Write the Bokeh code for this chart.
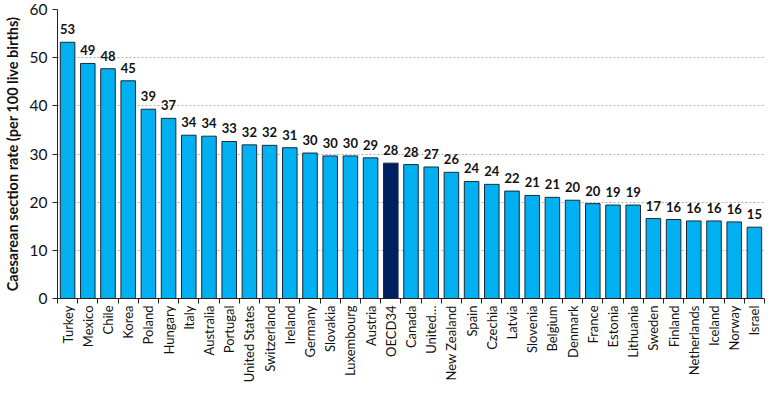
import numpy as np
from bokeh.plotting import figure
from bokeh.models import ColumnDataSource, FixedTicker, Range1d
from bokeh.core.properties import value
from bokeh.embed import file_html
from bokeh.resources import INLINE

countries = ["Turkey", "Mexico", "Chile", "Korea", "Poland", "Hungary", "Italy", "Australia",
             "Portugal", "United States", "Switzerland", "Ireland", "Germany", "Slovakia",
             "Luxembourg", "Austria", "OECD34", "Canada", "United\u2026", "New Zealand", "Spain",
             "Czechia", "Latvia", "Slovenia", "Belgium", "Denmark", "France", "Estonia",
             "Lithuania", "Sweden", "Finland", "Netherlands", "Iceland", "Norway", "Israel"]
rates = [53.2, 48.8, 47.7, 45.2, 39.3, 37.4, 33.9, 33.7, 32.6, 31.9, 31.8, 31.3, 30.2, 29.6,
         29.6, 29.2, 28.1, 27.8, 27.3, 26.2, 24.3, 23.7, 22.3, 21.4, 21.0, 20.4, 19.7, 19.4,
         19.4, 16.6, 16.4, 16.1, 16.1, 15.9, 14.8]
highlight = "OECD34"
y_ticks = [0, 10, 20, 30, 40, 50, 60]

FONT = "Lato"
n = len(countries)
xs = list(range(n))
colors = ["#002060" if c == highlight else "#00B0F0" for c in countries]
labels = [str(int(round(v))) for v in rates]

src = ColumnDataSource(dict(x=xs, top=rates, color=colors, label=labels))

p = figure(width=766, height=385, output_backend="svg", toolbar_location=None,
           x_range=Range1d(-0.5, n - 0.5), y_range=Range1d(0, 60),
           min_border_top=9, min_border_right=2, min_border_left=4, min_border_bottom=0)
p.outline_line_color = None
p.background_fill_color = "white"

p.vbar(x="x", top="top", width=0.72, bottom=0, fill_color="color",
       line_color="#1a2a3a", line_width=1, source=src)
p.text(x="x", y="top", text="label", source=src, text_align="center",
       text_baseline="bottom", y_offset=-8, text_font=value(FONT),
       text_font_style="bold", text_font_size="13px", text_color="#111111")

# axes
p.xaxis.ticker = FixedTicker(ticks=xs, minor_ticks=[i - 0.5 for i in range(n + 1)])
p.xaxis.major_label_overrides = {i: c for i, c in enumerate(countries)}
p.xaxis.major_label_orientation = np.pi / 2
p.xaxis.major_tick_line_color = None
p.xaxis.major_tick_out = 0
p.xaxis.major_tick_in = 0
p.xaxis.minor_tick_out = 5
p.xaxis.minor_tick_in = 0
p.xaxis.minor_tick_line_color = "#222222"
p.xaxis.axis_line_color = "#222222"
p.xaxis.major_label_text_font = FONT
p.xaxis.major_label_text_font_size = "13px"
p.xaxis.major_label_text_color = "#111111"
p.xaxis.major_label_standoff = 2

p.yaxis.ticker = FixedTicker(ticks=y_ticks)
p.yaxis.minor_tick_line_color = None
p.yaxis.major_tick_out = 5
p.yaxis.major_tick_in = 0
p.yaxis.axis_line_color = "#222222"
p.yaxis.major_tick_line_color = "#222222"
p.yaxis.major_label_text_font = FONT
p.yaxis.major_label_text_font_size = "15.5px"
p.yaxis.major_label_text_color = "#111111"
p.yaxis.axis_label = "Caesarean section rate (per 100 live births)"
p.yaxis.axis_label_text_font = FONT
p.yaxis.axis_label_text_font_style = "bold"
p.yaxis.axis_label_text_font_size = "14.5px"
p.yaxis.axis_label_text_color = "#111111"
p.yaxis.axis_label_standoff = 6

p.xgrid.grid_line_color = None
p.ygrid.ticker = FixedTicker(ticks=y_ticks[1:])
p.ygrid.grid_line_color = "#b0b0b0"
p.ygrid.grid_line_dash = "2 2"
p.ygrid.grid_line_width = 1

open("out.html", "w").write(file_html(p, INLINE))
